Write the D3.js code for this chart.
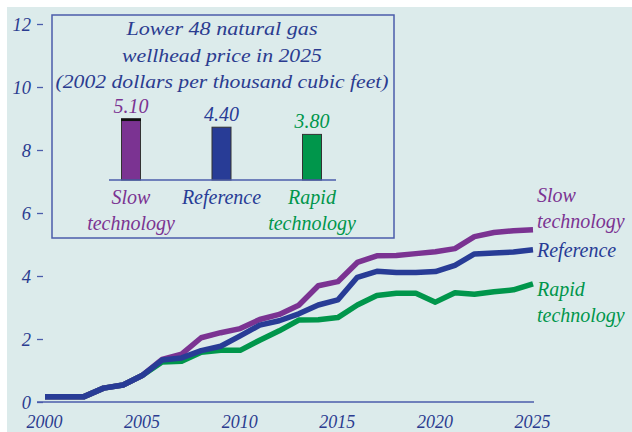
<!DOCTYPE html>
<html><head><meta charset="utf-8">
<script src="https://cdn.jsdelivr.net/npm/d3@7"></script>
<style>
html,body{margin:0;padding:0;background:#fff;}
svg text{font-family:"Liberation Serif","Times New Roman",serif;font-style:italic;}
</style></head>
<body><svg id="c" width="632" height="432"></svg>
<script>
const years = d3.range(2000, 2026);
const reference = [0.17,0.17,0.17,0.44,0.54,0.85,1.33,1.40,1.63,1.77,2.10,2.44,2.58,2.80,3.08,3.24,3.96,4.15,4.11,4.11,4.14,4.34,4.70,4.73,4.76,4.83];
const slow      = [0.17,0.17,0.17,0.44,0.54,0.85,1.35,1.52,2.04,2.20,2.33,2.62,2.78,3.07,3.69,3.82,4.43,4.64,4.65,4.71,4.77,4.87,5.25,5.38,5.44,5.47];
const rapid     = [0.17,0.17,0.17,0.44,0.54,0.85,1.27,1.29,1.58,1.64,1.64,1.96,2.26,2.60,2.61,2.68,3.08,3.38,3.45,3.45,3.17,3.47,3.42,3.50,3.56,3.75];
const yTicks = [0,2,4,6,8,10,12];
const xTicks = [2000,2005,2010,2015,2020,2025];
const insetCategories = ["Slow technology","Reference","Rapid technology"];
const insetValues = [5.10, 4.40, 3.80];
const insetLabels = ["5.10","4.40","3.80"];
const insetTitle = ["Lower 48 natural gas","wellhead price in 2025","(2002 dollars per thousand cubic feet)"];
const insetTitleWidths = [191, 200, 333];

const FONT = "'Liberation Serif','Times New Roman',serif";
const C = {bg:"#dcebeb", purple:"#7b3392", blue:"#283c96", green:"#00964b", text:"#2b3c90", axis:"#4b5cab"};
const svg = d3.select("#c");
svg.append("rect").attr("x",7).attr("y",7).attr("width",625).attr("height",425).attr("fill",C.bg);

const x = d3.scaleLinear().domain([2000,2025]).range([45,533]);
const y = d3.scaleLinear().domain([0,12]).range([402,24]);

// y axis
const ya = svg.append("g").attr("transform","translate(43,0)")
  .call(d3.axisLeft(y).tickValues(yTicks).tickSize(6).tickPadding(6).tickFormat(d3.format("d")));
ya.select(".domain").remove();
ya.selectAll("line").attr("stroke",C.axis).attr("stroke-width",1.3);
ya.selectAll("text").attr("fill",C.text).attr("font-size",18.5).attr("dy","0.33em")
  .style("font-family",FONT).style("font-style","italic");

// x axis
const xa = svg.append("g").attr("transform","translate(0,402)")
  .call(d3.axisBottom(x).tickValues(xTicks).tickSize(0).tickPadding(13).tickFormat(d3.format("d")));
xa.select(".domain").remove();
xa.selectAll("text").attr("fill",C.text).attr("font-size",18).attr("dx","-1")
  .style("font-family",FONT).style("font-style","italic");
svg.append("line").attr("x1",x(2000)-8).attr("x2",x(2025)+1).attr("y1",y(0)).attr("y2",y(0))
  .attr("stroke",C.axis).attr("stroke-width",1.6);

// lines
const line = d3.line().x((d,i)=>x(years[i])).y(d=>y(d));
[[rapid,C.green],[slow,C.purple],[reference,C.blue]].forEach(([s,c])=>{
  svg.append("path").datum(s).attr("d",line).attr("fill","none").attr("stroke",c)
    .attr("stroke-width",5.5).attr("stroke-linejoin","round");
});

// right labels
const rl = svg.append("g").attr("font-size",20);
[["Slow",202,C.purple],["technology",228,C.purple],["Reference",257,C.blue],["Rapid",296,C.green],["technology",322,C.green]]
 .forEach(([t,yy,c])=>rl.append("text").attr("x",537).attr("y",yy).attr("fill",c).text(t));

// inset
const ins = svg.append("g");
ins.append("rect").attr("x",52).attr("y",15).attr("width",342).attr("height",223)
  .attr("fill",C.bg).attr("stroke",C.axis).attr("stroke-width",1.5);
insetTitle.forEach((t,i)=>ins.append("text").attr("x",222-insetTitleWidths[i]/2).attr("y",35+i*26.5)
  .attr("textLength",insetTitleWidths[i]).attr("lengthAdjust","spacingAndGlyphs")
  .attr("font-size",19.5).attr("fill",C.text).text(t));
const bx = d3.scalePoint().domain(insetCategories).range([131,312]);
const by = d3.scaleLinear().domain([0,5]).range([180,120]);
const bcol = [C.purple,C.blue,C.green];
ins.selectAll("rect.bar").data(insetValues).join("rect").attr("class","bar")
  .attr("x",(d,i)=>bx(insetCategories[i])-9.5).attr("width",19)
  .attr("y",d=>by(d)).attr("height",d=>by(0)-by(d))
  .attr("fill",(d,i)=>bcol[i]).attr("stroke","#333").attr("stroke-width",1);
ins.append("line").attr("x1",bx(insetCategories[0])-10).attr("x2",bx(insetCategories[0])+10)
  .attr("y1",by(insetValues[0])+1).attr("y2",by(insetValues[0])+1).attr("stroke","#111").attr("stroke-width",2.5);
ins.append("line").attr("x1",109).attr("x2",336).attr("y1",by(0)).attr("y2",by(0)).attr("stroke",C.axis).attr("stroke-width",1.5);
ins.selectAll("text.val").data(insetValues).join("text").attr("class","val")
  .attr("x",(d,i)=>bx(insetCategories[i])).attr("y",d=>by(d)-6).attr("text-anchor","middle")
  .attr("font-size",20).attr("fill",(d,i)=>bcol[i]).text((d,i)=>insetLabels[i]);
const catLines = [["Slow","technology"],["Reference"],["Rapid","technology"]];
insetCategories.forEach((c,i)=>{
  catLines[i].forEach((t,j)=>ins.append("text").attr("x",bx(c)).attr("y",204+j*26)
    .attr("text-anchor","middle").attr("font-size",20).attr("fill",bcol[i]).text(t));
});
</script></body></html>
